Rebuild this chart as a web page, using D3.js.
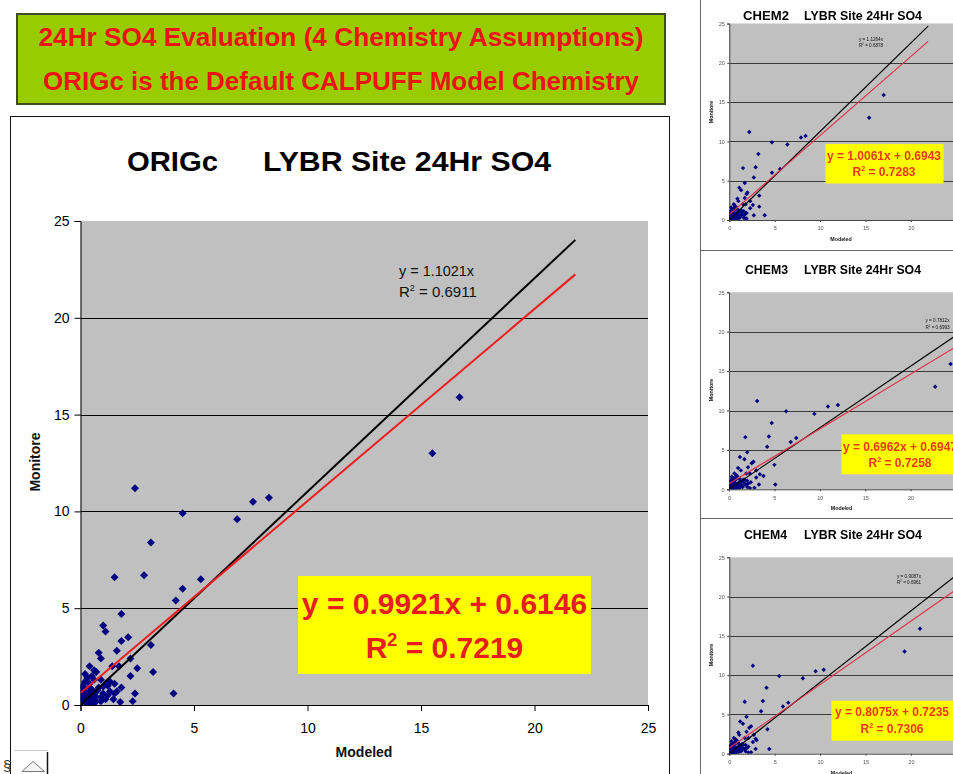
<!DOCTYPE html>
<html>
<head>
<meta charset="utf-8">
<script src="https://cdn.jsdelivr.net/npm/d3@7"></script>
<style>
  body { margin: 0; background: #fff; }
  svg { display: block; font-family: "Liberation Sans", Arial, Helvetica, sans-serif; }
</style>
</head>
<body>
<svg id="chart" width="953" height="774"></svg>
<script>
// ---- Data: 24-hour SO4 at LYBR, monitored vs CALPUFF modeled, four chemistry options ----
const headerLines = ["24Hr SO4 Evaluation (4 Chemistry Assumptions)", "ORIGc is the Default CALPUFF Model Chemistry"];
const chemistries = ["ORIGc", "CHEM2", "CHEM3", "CHEM4"];
const siteTitle = "LYBR Site 24Hr SO4";
const xTitle = "Modeled";
const yTitle = "Monitore";
const axisTicks = [0, 5, 10, 15, 20, 25];

const monitored = [
  15.9, 13.0, 11.2, 10.7, 10.5, 9.9, 9.6, 8.4, 6.6, 6.7,
  6.5, 6.0, 5.4, 4.7, 4.1, 3.8, 3.5, 3.3, 3.1, 2.8,
  2.7, 2.4, 2.4, 2.0, 1.9, 2.0, 2.0, 1.7, 1.8, 1.7,
  1.5, 1.1, 0.6, 0.6, 0.2, 0.15, 0.3, 0.7, 0.9, 1.2,
  0.95, 1.1, 0.6,
  1.4, 1.2, 1.0, 0.9, 0.8, 1.1, 0.7, 0.6, 0.5, 0.4,
  0.3, 0.2, 0.15, 0.1, 0.5, 0.8, 1.3, 1.5, 0.9, 0.4,
  0.3, 0.2, 0.6, 0.3, 0.1, 0.05, 1.0, 0.7, 0.5, 0.4,
  0.35, 0.25, 0.6, 1.6, 1.3, 0.9, 0.2, 1.2, 0.75, 0.45
];
const modeledORIGc = [
  16.7, 15.5, 2.4, 8.3, 7.6, 4.5, 6.9, 3.1, 1.5, 2.8,
  5.3, 4.5, 4.2, 1.8, 1.0, 1.1, 2.1, 1.8, 3.1, 1.6,
  0.8, 0.9, 2.2, 0.4, 2.5, 1.7, 1.4, 3.2, 0.6, 0.7,
  2.2, 1.5, 4.1, 2.4, 2.3, 1.75, 1.45, 1.6, 1.8, 1.2,
  1.0, 1.15, 1.5,
  0.3, 0.2, 0.1, 0.15, 0.05, 0.4, 0.2, 0.1, 0.3, 0.05,
  0.2, 0.1, 0.35, 0.25, 0.6, 0.5, 0.6, 0.5, 0.8, 0.9,
  0.5, 0.7, 1.0, 1.1, 0.6, 0.4, 1.2, 1.3, 1.2, 0.3,
  0.45, 0.15, 0.35, 0.2, 0.9, 0.4, 0.9, 1.3, 0.75, 0.65
];
const modeledCHEM2 = [
  17.0, 15.4, 2.2, 8.4, 7.9, 4.7, 6.4, 3.2, 1.5, 2.9,
  5.6, 4.7, 2.7, 1.7, 1.1, 1.3, 2.0, 1.9, 3.3, 1.7,
  0.9, 1.0, 2.3, 0.5, 2.6, 1.8, 1.5, 3.3, 0.6, 0.7,
  2.3, 1.6, 3.9, 2.7, 1.9, 1.8, 1.6, 1.7, 1.9, 1.3,
  1.0, 1.2, 1.6,
  0.3, 0.25, 0.1, 0.2, 0.05, 0.45, 0.2, 0.15, 0.35, 0.05,
  0.2, 0.1, 0.4, 0.3, 0.65, 0.55, 0.6, 0.55, 0.85, 0.95,
  0.55, 0.75, 1.05, 1.15, 0.65, 0.45, 1.3, 1.4, 1.25, 0.35,
  0.5, 0.2, 0.4, 0.2, 0.95, 0.45, 0.95, 1.35, 0.8, 0.7
];
const modeledCHEM3 = [
  24.4, 22.7, 3.1, 12.0, 10.9, 6.3, 9.4, 4.7, 1.8, 4.4,
  7.4, 6.8, 4.2, 2.0, 1.2, 1.7, 2.7, 2.5, 5.0, 2.1,
  1.0, 1.3, 3.0, 0.6, 3.4, 2.3, 1.9, 3.8, 0.8, 0.9,
  3.0, 2.0, 5.1, 3.3, 2.8, 2.3, 2.0, 2.1, 2.4, 1.6,
  1.3, 1.5, 1.9,
  0.4, 0.3, 0.15, 0.2, 0.1, 0.55, 0.3, 0.15, 0.4, 0.1,
  0.3, 0.15, 0.5, 0.35, 0.8, 0.7, 0.8, 0.7, 1.1, 1.2,
  0.7, 0.95, 1.35, 1.5, 0.8, 0.55, 1.6, 1.75, 1.6, 0.4,
  0.6, 0.2, 0.45, 0.3, 1.2, 0.55, 1.2, 1.75, 1.0, 0.85
];
const modeledCHEM4 = [
  21.0, 19.3, 2.6, 10.4, 9.5, 5.5, 8.1, 4.1, 1.7, 3.7,
  6.5, 5.9, 3.5, 1.9, 1.2, 1.5, 2.4, 2.2, 4.2, 1.9,
  1.0, 1.1, 2.7, 0.5, 2.9, 2.1, 1.7, 3.0, 0.7, 0.8,
  2.6, 1.8, 4.4, 2.9, 2.4, 2.1, 1.8, 1.9, 2.1, 1.4,
  1.2, 1.4, 1.7,
  0.35, 0.25, 0.1, 0.2, 0.05, 0.5, 0.25, 0.1, 0.35, 0.05,
  0.25, 0.1, 0.4, 0.3, 0.7, 0.6, 0.7, 0.6, 0.95, 1.05,
  0.6, 0.8, 1.15, 1.3, 0.7, 0.45, 1.4, 1.5, 1.4, 0.35,
  0.5, 0.15, 0.4, 0.25, 1.05, 0.45, 1.05, 1.5, 0.85, 0.75
];
const modeledSeries = [modeledORIGc, modeledCHEM2, modeledCHEM3, modeledCHEM4];

// Linear fits (with intercept) and fits forced through the origin
const fitSlope     = [0.9921, 1.0061, 0.6962, 0.8075];
const fitIntercept = [0.6146, 0.6943, 0.6947, 0.7235];
const fitR2        = [0.7219, 0.7283, 0.7258, 0.7306];
const originSlope  = [1.1021, 1.1264, 0.7812, 0.9087];
const originR2     = [0.6911, 0.6878, 0.6993, 0.6961];
const trendEnd     = [21.8, 21.9, 25, 25];

// ---- Layout ----
const svg = d3.select("#chart");
const fmt4 = d3.format(".4f");

const panels = [
  { left: 80.5, right: 648, top: 221, bottom: 705,
    big: true, tickFont: 14, tickLen: 6, yPad: 5, xPad: 12, axisColor: "#000", gridColor: "#000", tickColor: "#000",
    marker: 32, lineW: 2, red: "#ee1c1c",
    titleY: 171, nameX: 127, nameLen: 91, siteX: 263, siteLen: 288, titleFont: 28,
    xTitleX: 364, xTitleY: 757, yTitleX: 40, yTitleY: 462, axisFont: 14,
    eqX: 399, eqY: 276, eqY2: 297, eqFont: 15, eqLen: 75,
    box: { x: 298, y: 576, w: 293, h: 98, cx: 444.5, l1: 614, l2: 658, font: 30, color: "#e81e1e" } },
  { left: 729.3, right: 956.3, top: 23.5, bottom: 220,
    big: false, tickFont: 5.5, tickLen: 2, yPad: 2.5, xPad: 4.5, axisColor: "#444", gridColor: "#3a3a3a", tickColor: "#555",
    marker: 10, lineW: 1.2, red: "#e23048",
    titleY: 19.5, nameX: 743, nameLen: 46, siteX: 804, siteLen: 118, titleFont: 12.5,
    xTitleX: 841, xTitleY: 241, yTitleX: 712.5, yTitleY: 112, axisFont: 5.3,
    eqX: 859, eqY: 41, eqY2: 47, eqFont: 4.6, eqLen: 24,
    box: { x: 825.5, y: 144, w: 118, h: 39.5, cx: 884, l1: 159.5, l2: 176, font: 12, color: "#ea3a12" } },
  { left: 729, right: 956, top: 292.3, bottom: 489.3,
    big: false, tickFont: 5.5, tickLen: 2, yPad: 2.5, xPad: 4.5, axisColor: "#444", gridColor: "#3a3a3a", tickColor: "#555",
    marker: 10, lineW: 1.2, red: "#e23048",
    titleY: 273.5, nameX: 745, nameLen: 43, siteX: 804, siteLen: 117, titleFont: 12.5,
    xTitleX: 841.5, xTitleY: 510, yTitleX: 712.5, yTitleY: 390, axisFont: 5.3,
    eqX: 925.5, eqY: 322, eqY2: 329, eqFont: 4.6, eqLen: 24,
    box: { x: 841.5, y: 434.3, w: 120, h: 40, cx: 900, l1: 450.5, l2: 466.5, font: 12, color: "#ea3a12" } },
  { left: 729.3, right: 956.3, top: 557.3, bottom: 753.7,
    big: false, tickFont: 5.5, tickLen: 2, yPad: 2.5, xPad: 4.5, axisColor: "#444", gridColor: "#3a3a3a", tickColor: "#555",
    marker: 10, lineW: 1.2, red: "#e23048",
    titleY: 538.5, nameX: 744, nameLen: 43, siteX: 804, siteLen: 118, titleFont: 12.5,
    xTitleX: 841.5, xTitleY: 775, yTitleX: 712.5, yTitleY: 655, axisFont: 5.3,
    eqX: 897, eqY: 577.5, eqY2: 583.5, eqFont: 4.6, eqLen: 24,
    box: { x: 831.5, y: 700.7, w: 124, h: 40, cx: 892, l1: 716, l2: 732.5, font: 12, color: "#ea3a12" } }
];

// ---- Header banner ----
svg.append("rect")
  .attr("x", 17).attr("y", 14).attr("width", 648).attr("height", 90)
  .attr("fill", "#99cc00").attr("stroke", "#3d4c22").attr("stroke-width", 2);
headerLines.forEach((t, i) => {
  svg.append("text")
    .attr("x", 341).attr("y", [45.5, 89.5][i])
    .attr("text-anchor", "middle")
    .attr("font-size", 25).attr("font-weight", "bold").attr("fill", "#ec1216")
    .attr("textLength", [605, 596][i]).attr("lengthAdjust", "spacingAndGlyphs")
    .text(t);
});

// ---- Frames ----
svg.append("rect").attr("x", 10.5).attr("y", 116.5).attr("width", 659).attr("height", 700)
  .attr("fill", "none").attr("stroke", "#111").attr("stroke-width", 1);

const side = svg.append("g");
side.append("line").attr("x1", 700.5).attr("x2", 700.5).attr("y1", 0).attr("y2", 774).attr("stroke", "#666");
[250.5, 518.5].forEach(yy => side.append("line").attr("x1", 700).attr("x2", 953).attr("y1", yy).attr("y2", yy).attr("stroke", "#666"));

// soft look of the reduced panels
const defs = svg.append("defs");
defs.append("filter").attr("id", "soft").attr("x", "-5%").attr("y", "-5%").attr("width", "110%").attr("height", "110%")
  .append("feGaussianBlur").attr("stdDeviation", 0.3);

function drawPanel(p, k) {
  const x = d3.scaleLinear().domain([0, 25]).range([p.left, p.right]);
  const y = d3.scaleLinear().domain([0, 25]).range([p.bottom, p.top]);
  const g = (p.big ? svg : side).append("g");
  if (!p.big) g.attr("filter", "url(#soft)");

  defs.append("clipPath").attr("id", "plotclip" + k)
    .append("rect").attr("x", p.left).attr("y", p.top).attr("width", p.right - p.left).attr("height", p.bottom - p.top);

  // chart title
  g.append("text").attr("x", p.nameX).attr("y", p.titleY)
    .attr("font-size", p.titleFont).attr("font-weight", "bold").attr("fill", "#000")
    .attr("textLength", p.nameLen).attr("lengthAdjust", "spacingAndGlyphs").text(chemistries[k]);
  g.append("text").attr("x", p.siteX).attr("y", p.titleY)
    .attr("font-size", p.titleFont).attr("font-weight", "bold").attr("fill", "#000")
    .attr("textLength", p.siteLen).attr("lengthAdjust", "spacingAndGlyphs").text(siteTitle);

  // plot area and gridlines
  g.append("rect").attr("x", p.left).attr("y", p.top)
    .attr("width", p.right - p.left).attr("height", p.bottom - p.top).attr("fill", "#c0c0c0");
  g.append("g").selectAll("line").data(axisTicks.filter(t => t > 0 && t < 25)).join("line")
    .attr("x1", p.left).attr("x2", p.right)
    .attr("y1", d => Math.round(y(d)) + 0.5).attr("y2", d => Math.round(y(d)) + 0.5)
    .attr("stroke", p.gridColor).attr("stroke-width", 1);

  // axes
  const ay = g.append("g").attr("transform", `translate(${p.left},0)`)
    .call(d3.axisLeft(y).tickValues(axisTicks).tickSize(p.tickLen).tickPadding(p.yPad).tickFormat(d3.format("d")));
  const ax = g.append("g").attr("transform", `translate(0,${p.bottom})`)
    .call(d3.axisBottom(x).tickValues(axisTicks).tickSize(p.tickLen).tickPadding(p.xPad).tickFormat(d3.format("d")));
  [ay, ax].forEach(a => {
    a.attr("font-family", null).attr("font-size", null);
    a.select(".domain").attr("stroke", p.axisColor);
    a.selectAll(".tick line").attr("stroke", p.axisColor);
    a.selectAll(".tick text").attr("font-size", p.tickFont).attr("fill", p.tickColor);
  });

  // axis titles
  g.append("text").attr("x", p.xTitleX).attr("y", p.xTitleY).attr("text-anchor", "middle")
    .attr("font-size", p.axisFont).attr("font-weight", "bold").attr("fill", "#111").text(xTitle);
  g.append("text").attr("transform", `translate(${p.yTitleX},${p.yTitleY}) rotate(-90)`).attr("text-anchor", "middle")
    .attr("font-size", p.axisFont).attr("font-weight", "bold").attr("fill", "#111").text(yTitle);

  const inner = g.append("g").attr("clip-path", `url(#plotclip${k})`);

  // observations
  const pts = modeledSeries[k].map((m, i) => [m, monitored[i]]);
  const diamond = d3.symbol(d3.symbolSquare, p.marker)();
  inner.append("g").selectAll("path").data(pts).join("path")
    .attr("d", diamond)
    .attr("transform", d => `translate(${x(d[0])},${y(d[1])}) rotate(45)`)
    .attr("fill", "#000080");

  // trendlines
  const line = d3.line().x(d => x(d[0])).y(d => y(d[1]));
  const xEnd = trendEnd[k];
  inner.append("path")
    .attr("d", line([[0, 0], [xEnd, originSlope[k] * xEnd]]))
    .attr("fill", "none").attr("stroke", "#000").attr("stroke-width", p.lineW);
  inner.append("path")
    .attr("d", line([[0, fitIntercept[k]], [xEnd, fitSlope[k] * xEnd + fitIntercept[k]]]))
    .attr("fill", "none").attr("stroke", p.red).attr("stroke-width", p.lineW);

  // through-origin fit label
  const eq = g.append("g").attr("font-size", p.eqFont).attr("fill", "#111");
  eq.append("text").attr("x", p.eqX).attr("y", p.eqY)
    .attr("textLength", p.eqLen).attr("lengthAdjust", "spacingAndGlyphs")
    .text(`y = ${fmt4(originSlope[k])}x`);
  const r = eq.append("text").attr("x", p.eqX).attr("y", p.eqY2);
  r.append("tspan").text("R");
  r.append("tspan").attr("font-size", p.eqFont * 0.6).attr("dy", -p.eqFont * 0.38).text("2");
  r.append("tspan").attr("dy", p.eqFont * 0.38).text(` = ${fmt4(originR2[k])}`);

  // highlighted linear fit
  const b = p.box;
  g.append("rect").attr("x", b.x).attr("y", b.y).attr("width", b.w).attr("height", b.h).attr("fill", "#ffff00");
  g.append("text").attr("x", b.cx).attr("y", b.l1).attr("text-anchor", "middle")
    .attr("font-size", b.font).attr("font-weight", "bold").attr("fill", b.color)
    .text(`y = ${fmt4(fitSlope[k])}x + ${fmt4(fitIntercept[k])}`);
  const r2 = g.append("text").attr("x", b.cx).attr("y", b.l2).attr("text-anchor", "middle")
    .attr("font-size", b.font).attr("font-weight", "bold").attr("fill", b.color);
  r2.append("tspan").text("R");
  r2.append("tspan").attr("font-size", b.font * 0.6).attr("dy", -b.font * 0.4).text("2");
  r2.append("tspan").attr("dy", b.font * 0.4).text(` = ${fmt4(fitR2[k])}`);
}

panels.forEach(drawPanel);

// small toolbar glyph in the lower-left corner
const tb = svg.append("g");
tb.append("line").attr("x1", 14).attr("x2", 48).attr("y1", 750.5).attr("y2", 750.5).attr("stroke", "#ccc");
tb.append("line").attr("x1", 47.5).attr("x2", 47.5).attr("y1", 752).attr("y2", 774).attr("stroke", "#111").attr("stroke-width", 1.5);
tb.append("path").attr("d", "M22,771.5 L33,761.5 L44.5,771.5 Z").attr("fill", "#f4f4f4").attr("stroke", "#777");
tb.append("text").attr("x", 3).attr("y", 771).attr("font-size", 15).attr("fill", "#333").text("§");
</script>
</body>
</html>
